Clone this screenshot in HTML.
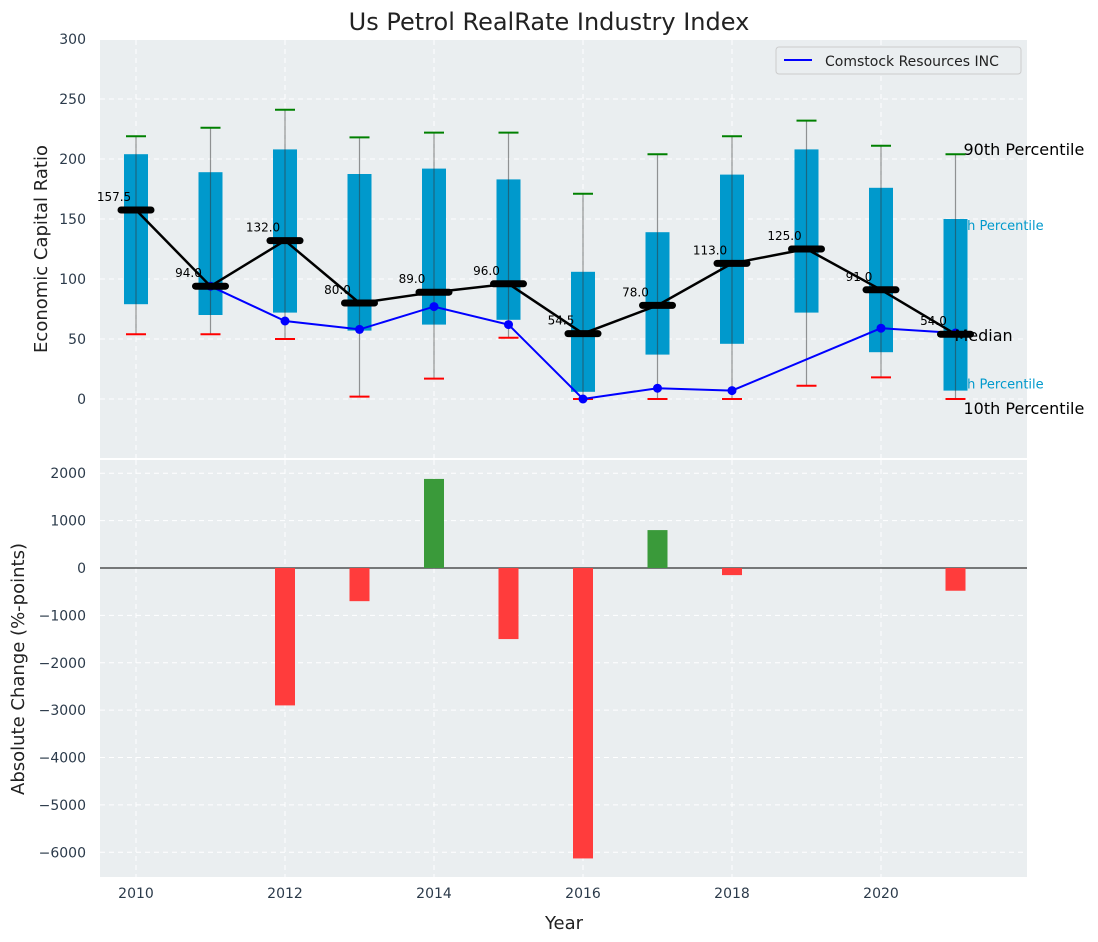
<!DOCTYPE html>
<html><head><meta charset="utf-8"><style>
body{margin:0;background:#fff;}
svg{display:block;font-family:"DejaVu Sans","Liberation Sans",sans-serif;}
</style></head><body>
<svg id="c" width="1098" height="942" xmlns="http://www.w3.org/2000/svg"></svg>
<script>
const years=[2010,2011,2012,2013,2014,2015,2016,2017,2018,2019,2020,2021];
const p90=[219,226,241,218,222,222,171,204,219,232,211,204];
const p75=[204,189,208,187.5,192,183,106,139,187,208,176,150];
const medians=[157.5,94,132,80,89,96,54.5,78,113,125,91,54];
const p25=[79,70,72,57,62,66,6,37,46,72,39,7];
const p10=[54,54,50,2,17,51,0,0,0,11,18,0];
const compYears=[2011,2012,2013,2014,2015,2016,2017,2018,2020,2021];
const compVals=[94,65,58,77,62,0,9,7,59,55];
const changeYears=[2012,2013,2014,2015,2016,2017,2018,2021];
const changeVals=[-2900,-700,1880,-1500,-6130,800,-150,-480];
const yTicksTop=[0,50,100,150,200,250,300];
const yTicksBot=[-6000,-5000,-4000,-3000,-2000,-1000,0,1000,2000];
const xTicks=[2010,2012,2014,2016,2018,2020];

const svg=document.getElementById('c');
const NS='http://www.w3.org/2000/svg';
function el(t,a,txt,parent){const e=document.createElementNS(NS,t);for(const k in a)e.setAttribute(k,a[k]);if(txt!==undefined)e.textContent=txt;(parent||svg).appendChild(e);return e;}
const L=100,R=1027,T1=40,B1=458,T2=460,B2=877;
const x=v=>136+(v-2010)*74.5;
const y1=v=>399-v*1.2;
const y2=v=>568-v*0.04738;

let e;
e=el('text',{x:549,y:30,'font-size':24,'text-anchor':'middle',fill:'#222'},'Us Petrol RealRate Industry Index');



e=el('rect',{x:L,y:T1,width:R-L,height:B1-T1,fill:'#eaeef0'});


e=el('rect',{x:L,y:T2,width:R-L,height:B2-T2,fill:'#eaeef0'});



xTicks.forEach(t=>{
  el('line',{x1:x(t),x2:x(t),y1:T1,y2:B1,stroke:'#fff','stroke-dasharray':'5,4','stroke-width':1});
  el('line',{x1:x(t),x2:x(t),y1:T2,y2:B2,stroke:'#fff','stroke-dasharray':'5,4','stroke-width':1});
  e=el('text',{x:x(t),y:898,'font-size':14,'text-anchor':'middle',fill:'#2b3a4a'},t);
  
  
});
yTicksTop.forEach(t=>{
  el('line',{x1:L,x2:R,y1:y1(t),y2:y1(t),stroke:'#fff','stroke-dasharray':'5,4'});
  e=el('text',{x:86,y:y1(t)+5,'font-size':14,'text-anchor':'end',fill:'#2b3a4a'},t);
  
  
});
yTicksBot.forEach(t=>{
  el('line',{x1:L,x2:R,y1:y2(t),y2:y2(t),stroke:'#fff','stroke-dasharray':'5,4'});
  e=el('text',{x:86,y:y2(t)+5,'font-size':14,'text-anchor':'end',fill:'#2b3a4a'},(t<0?'\u2212'+(-t):t));
  
  
});

const lx=x(2021);
e=el('text',{x:lx+8,y:y1(p90[11])+1,'font-size':16,fill:'#000'},'90th Percentile');


e=el('text',{x:lx-10,y:y1(p75[11])+11,'font-size':13,fill:'#0099cc'},'75th Percentile');


e=el('text',{x:lx-10,y:y1(p25[11])-2,'font-size':13,fill:'#0099cc'},'25th Percentile');



years.forEach((yr,i)=>{
  const cx=x(yr);
  e=el('rect',{x:cx-12,y:y1(p75[i]),width:24,height:y1(p25[i])-y1(p75[i]),fill:'#0099cc'});
  
  
  el('line',{x1:cx,x2:cx,y1:y1(p10[i]),y2:y1(p90[i]),stroke:'#333','stroke-opacity':0.5,'stroke-width':1.2});
  e=el('line',{x1:cx-10,x2:cx+10,y1:y1(p90[i]),y2:y1(p90[i]),stroke:'green','stroke-width':2});
  
  
  e=el('line',{x1:cx-10,x2:cx+10,y1:y1(p10[i]),y2:y1(p10[i]),stroke:'red','stroke-width':2});
  
  
});

e=el('polyline',{points:compYears.map((yr,i)=>x(yr)+','+y1(compVals[i])).join(' '),fill:'none',stroke:'blue','stroke-width':2});


compYears.forEach((yr,i)=>{
  e=el('circle',{cx:x(yr),cy:y1(compVals[i]),r:4.5,fill:'blue'});
  
  
});

e=el('polyline',{points:years.map((yr,i)=>x(yr)+','+y1(medians[i])).join(' '),fill:'none',stroke:'#000','stroke-width':2.5});


years.forEach((yr,i)=>{
  const cx=x(yr),cy=y1(medians[i]);
  e=el('line',{x1:cx-15,x2:cx+15,y1:cy,y2:cy,stroke:'#000','stroke-width':7,'stroke-linecap':'round'});
  
  
  e=el('text',{x:cx-22,y:cy-9,'font-size':12,'text-anchor':'middle',fill:'#000'},medians[i].toFixed(1));
  
  
});
e=el('text',{x:lx-1,y:y1(medians[11])+7,'font-size':16,fill:'#000'},'Median');


e=el('text',{x:lx+8,y:y1(p10[11])+15,'font-size':16,fill:'#000'},'10th Percentile');



const lg=el('g',{});


el('rect',{x:776,y:47,width:245,height:27,rx:3,fill:'#eaeef0',stroke:'#ccc'},undefined,lg);
el('line',{x1:784,x2:812,y1:60,y2:60,stroke:'blue','stroke-width':2},undefined,lg);
el('text',{x:825,y:66,'font-size':14,fill:'#222'},'Comstock Resources INC',lg);

el('line',{x1:L,x2:R,y1:y2(0),y2:y2(0),stroke:'#000','stroke-width':1});
changeYears.forEach((yr,i)=>{
  const v=changeVals[i];
  e=el('rect',{x:x(yr)-10,y:Math.min(y2(v),y2(0)),width:20,height:Math.abs(y2(v)-y2(0)),fill:v>=0?'#3a9a3a':'#ff3c3c'});
  
  
});

e=el('text',{x:0,y:0,'font-size':18,'text-anchor':'middle',fill:'#222',transform:'translate(47,249) rotate(-90)'},'Economic Capital Ratio');


e=el('text',{x:0,y:0,'font-size':18,'text-anchor':'middle',fill:'#222',transform:'translate(24,669) rotate(-90)'},'Absolute Change (%-points)');


e=el('text',{x:564,y:929,'font-size':18,'text-anchor':'middle',fill:'#222'},'Year');


</script>
</body></html>
